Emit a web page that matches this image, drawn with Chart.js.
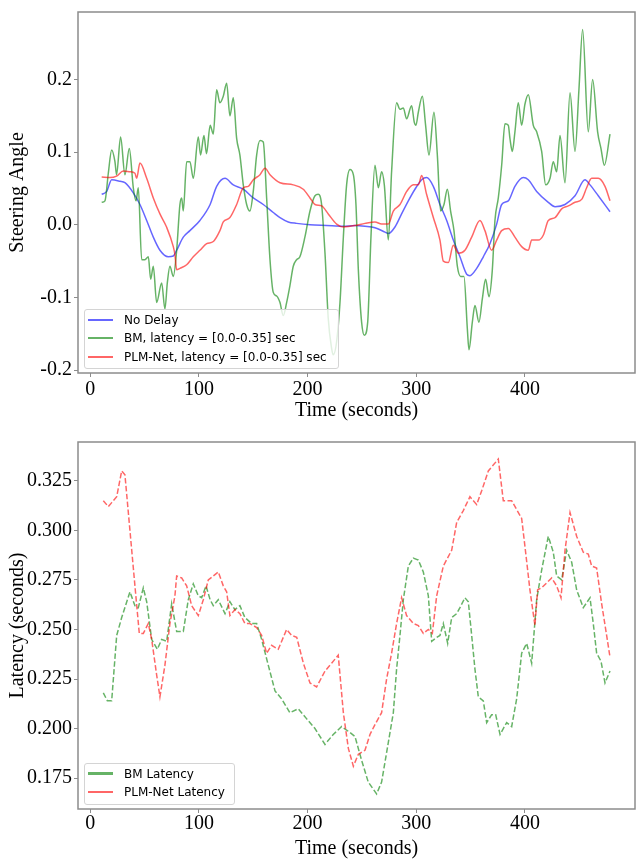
<!DOCTYPE html>
<html>
<head>
<meta charset="utf-8">
<script src="https://cdn.jsdelivr.net/npm/chart.js@4"></script>
<style>
  body { margin: 0; background: #fff; }
  #wrap { position: relative; width: 640px; height: 860px; }
  canvas { position: absolute; left: 0; }
  #steerChart { top: 0; }
  #latencyChart { top: 430px; }
  .legend {
    position: absolute;
    background: rgba(255, 255, 255, 0.8);
    border: 1px solid #d4d4d4;
    border-radius: 3px;
    font-family: 'DejaVu Sans', sans-serif;
    font-size: 12px;
    color: #000;
  }
  .item { position: absolute; left: 0; height: 18px; line-height: 18px; white-space: nowrap; }
  .swatch { position: absolute; left: 3px; top: 8px; width: 25px; height: 2px; }
  .label { position: absolute; left: 39px; top: 0; }
</style>
</head>
<body>
<div id="wrap">
  <canvas id="steerChart" width="640" height="430"></canvas>
  <canvas id="latencyChart" width="640" height="430"></canvas>

  <div class="legend" style="left:84px; top:309px; width:253px; height:58px;">
    <div class="item" style="top:1px"><span class="swatch" style="background:rgba(0,0,255,0.6)"></span><span class="label">No Delay</span></div>
    <div class="item" style="top:19px"><span class="swatch" style="background:rgba(0,128,0,0.6)"></span><span class="label">BM, latency = [0.0-0.35] sec</span></div>
    <div class="item" style="top:38px"><span class="swatch" style="background:rgba(255,0,0,0.6)"></span><span class="label">PLM-Net, latency = [0.0-0.35] sec</span></div>
  </div>

  <div class="legend" style="left:84px; top:763px; width:149px; height:40px;">
    <div class="item" style="top:1px"><span class="swatch" style="background:rgba(0,128,0,0.6); height:3px; top:7px"></span><span class="label">BM Latency</span></div>
    <div class="item" style="top:19px"><span class="swatch" style="background:rgba(255,0,0,0.6)"></span><span class="label">PLM-Net Latency</span></div>
  </div>
</div>

<script>
// tick values
const timeTicks = [0, 100, 200, 300, 400];
const steerTicks = [-0.2, -0.1, 0.0, 0.1, 0.2];
const latencyTicks = [0.175, 0.2, 0.225, 0.25, 0.275, 0.3, 0.325];

// steering angle, [time, value]
const noDelay = [
  [10.5,0.042],[15.1,0.046],[19.7,0.062],[27.3,0.060],[31.9,0.058],[39.6,0.044],[45.7,0.028],[51.9,0.006],
  [58.0,-0.017],[64.1,-0.035],[71.8,-0.044],[76.4,-0.043],[79.5,-0.035],[85.6,-0.017],[91.7,-0.008],[100.9,0.006],
  [110.3,0.028],[116.3,0.053],[124.0,0.064],[131.6,0.055],[140.8,0.049],[150.0,0.037],[159.2,0.028],[168.4,0.017],
  [174.6,0.010],[182.2,0.004],[189.9,0.002],[202.2,0.000],[217.5,-0.001],[232.9,-0.002],[243.6,-0.001],[252.8,-0.002],
  [262.0,-0.004],[271.2,-0.010],[274.3,-0.012],[280.4,-0.003],[286.5,0.015],[292.7,0.033],[298.8,0.049],[305.0,0.062],
  [309.5,0.065],[315.7,0.053],[321.8,0.028],[328.0,0.006],[334.1,-0.021],[340.2,-0.044],[346.4,-0.068],[349.4,-0.070],
  [355.6,-0.060],[361.7,-0.044],[367.8,-0.026],[374.0,0.001],[378.6,0.028],[384.7,0.033],[390.8,0.053],[398.5,0.065],
  [403.1,0.062],[410.8,0.046],[421.5,0.031],[427.7,0.025],[436.9,0.028],[446.1,0.040],[455.3,0.062],[459.9,0.055],
  [467.5,0.040],[478.3,0.018]
];

const bmSteer = [
  [10.5,0.031],[13.5,0.033],[16.6,0.071],[19.7,0.103],[22.7,0.087],[24.2,0.069],[27.9,0.121],[31.9,0.069],
  [35.9,0.105],[39.6,0.051],[42.1,0.033],[44.2,0.051],[47.3,-0.048],[50.3,-0.048],[53.4,-0.044],[55.6,-0.075],
  [58.0,-0.057],[61.1,-0.107],[65.7,-0.080],[68.7,-0.116],[70.9,-0.080],[73.3,-0.057],[76.4,-0.071],[79.5,-0.035],
  [82.5,0.028],[84.1,0.037],[85.6,0.019],[88.7,0.087],[91.7,0.087],[94.8,0.064],[99.4,0.121],[101.5,0.096],
  [104.6,0.123],[107.0,0.098],[110.3,0.137],[113.2,0.125],[116.3,0.186],[119.3,0.168],[122.4,0.177],[125.5,0.195],
  [128.5,0.150],[131.6,0.175],[134.7,0.119],[137.7,0.096],[140.8,0.055],[143.9,0.028],[146.9,0.019],[150.0,0.046],
  [153.1,0.096],[156.2,0.116],[159.2,0.114],[162.3,0.037],[165.4,-0.048],[168.4,-0.093],[171.5,-0.098],[174.6,-0.107],
  [177.6,-0.125],[180.7,-0.107],[183.7,-0.084],[186.8,-0.057],[189.9,-0.048],[192.9,-0.044],[197.5,-0.017],[202.2,0.019],
  [206.8,0.040],[209.8,0.042],[212.9,0.028],[216.0,-0.039],[219.0,-0.129],[222.1,-0.170],[223.6,-0.179],[226.7,-0.161],
  [229.8,-0.107],[232.9,-0.017],[235.9,0.055],[239.0,0.076],[242.1,0.069],[244.5,0.028],[246.7,-0.062],[249.7,-0.134],
  [252.2,-0.152],[255.3,-0.134],[258.3,-0.017],[262.0,0.082],[265.1,0.051],[268.1,0.073],[270.6,0.055],[274.3,-0.021],
  [277.3,0.073],[281.9,0.168],[285.0,0.159],[288.1,0.161],[291.1,0.146],[295.7,0.164],[298.2,0.141],[299.7,0.137],
  [301.9,0.155],[305.6,0.177],[308.6,0.137],[311.7,0.096],[316.3,0.155],[319.4,0.096],[322.4,0.019],[325.5,0.028],
  [328.6,0.049],[331.6,0.019],[334.7,-0.008],[337.8,-0.057],[340.8,-0.071],[343.9,-0.071],[347.0,-0.143],[348.5,-0.172],
  [351.6,-0.134],[354.0,-0.111],[357.7,-0.134],[360.8,-0.102],[363.8,-0.075],[366.9,-0.099],[370.0,-0.062],[372.4,0.006],
  [375.5,0.037],[378.6,0.082],[381.6,0.139],[384.7,0.137],[386.2,0.119],[388.4,0.101],[390.8,0.128],[393.9,0.168],
  [397.0,0.137],[400.0,0.166],[403.1,0.179],[407.7,0.137],[410.8,0.128],[415.4,0.101],[419.1,0.055],[423.1,0.064],
  [426.1,0.087],[429.2,0.073],[432.3,0.123],[436.9,0.058],[441.5,0.182],[446.1,0.101],[449.7,0.186],[453.1,0.269],
  [458.3,0.128],[462.3,0.200],[466.9,0.128],[470.0,0.105],[473.1,0.082],[478.3,0.125]
];

const plmSteer = [
  [10.5,0.066],[18.1,0.065],[24.2,0.067],[30.4,0.074],[36.5,0.073],[41.1,0.071],[42.7,0.064],[45.7,0.085],
  [51.9,0.064],[58.0,0.037],[64.1,0.015],[70.2,-0.003],[76.4,-0.030],[77.9,-0.041],[79.5,-0.062],[82.5,-0.060],
  [88.7,-0.055],[94.8,-0.044],[100.9,-0.035],[107.1,-0.026],[113.2,-0.023],[119.3,-0.008],[122.4,0.004],[128.5,0.010],
  [134.7,0.028],[140.8,0.051],[145.4,0.053],[150.0,0.062],[156.2,0.069],[160.8,0.078],[165.4,0.069],[174.6,0.058],
  [186.8,0.055],[196.0,0.049],[202.2,0.037],[206.8,0.028],[212.9,0.026],[219.0,0.015],[226.7,0.001],[232.9,-0.003],
  [239.0,-0.002],[243.6,-0.001],[252.8,0.002],[262.0,0.004],[268.1,0.001],[274.3,0.001],[278.9,0.019],[285.0,0.028],
  [291.2,0.046],[297.3,0.055],[301.9,0.055],[305.0,0.068],[309.5,0.042],[315.7,0.010],[321.8,-0.021],[324.9,-0.050],
  [329.5,-0.052],[334.1,-0.028],[338.7,-0.039],[344.8,-0.035],[351.0,-0.017],[358.6,0.006],[363.2,-0.008],[369.4,-0.035],
  [374.0,-0.021],[378.6,-0.008],[384.7,-0.005],[390.8,-0.017],[397.0,-0.030],[403.1,-0.035],[406.2,-0.021],[412.3,-0.021],
  [417.0,-0.014],[421.5,0.006],[427.7,0.010],[433.8,0.022],[439.9,0.026],[446.1,0.031],[452.2,0.035],[456.8,0.051],
  [461.4,0.064],[467.5,0.064],[473.7,0.053],[478.3,0.033]
];

// latency (seconds), [time, value]
const bmLatency = [
  [12,0.218],[15.7,0.214],[19.7,0.214],[24.3,0.247],[28.9,0.256],[36.5,0.269],[41.1,0.262],[44.2,0.261],
  [48.8,0.271],[51.9,0.264],[56.5,0.245],[61.7,0.240],[65.7,0.245],[70.3,0.244],[74.9,0.263],[79.5,0.249],
  [85.6,0.249],[90.2,0.265],[94.8,0.273],[99.4,0.267],[102.5,0.266],[106.5,0.272],[110.3,0.265],[113.2,0.262],
  [117.8,0.265],[124.0,0.258],[128.5,0.264],[133.1,0.260],[137.7,0.262],[142.3,0.256],[148.5,0.253],[153.1,0.253],
  [157.7,0.245],[163.8,0.232],[170.0,0.219],[176.1,0.215],[183.7,0.208],[191.4,0.210],[199.0,0.205],[206.8,0.200],
  [216.0,0.192],[223.6,0.197],[231.3,0.201],[239.0,0.198],[243.6,0.196],[249.7,0.184],[255.8,0.173],[263.5,0.167],
  [268.1,0.173],[274.3,0.193],[278.9,0.208],[281.9,0.230],[285.0,0.247],[288.1,0.265],[292.7,0.282],[297.3,0.286],
  [301.9,0.285],[306.5,0.279],[311.1,0.267],[314.2,0.244],[318.8,0.246],[321.8,0.247],[324.9,0.253],[328.9,0.243],
  [332.6,0.256],[337.2,0.258],[340.2,0.261],[344.8,0.266],[347.9,0.264],[351.0,0.247],[354.0,0.230],[357.1,0.216],
  [361.7,0.214],[364.8,0.203],[369.4,0.207],[373.1,0.207],[377.1,0.197],[380.1,0.200],[383.2,0.203],[387.8,0.201],
  [392.4,0.215],[397.0,0.238],[401.6,0.243],[406.2,0.233],[410.8,0.265],[415.4,0.280],[421.5,0.297],[426.1,0.289],
  [429.2,0.277],[433.8,0.275],[438.4,0.290],[443.0,0.284],[447.6,0.270],[453.7,0.261],[459.9,0.266],[462.9,0.253],
  [466.0,0.238],[470.0,0.234],[473.7,0.223],[478.3,0.229]
];

const plmLatency = [
  [12,0.315],[16.6,0.312],[19.7,0.314],[24.3,0.317],[28.9,0.330],[31.9,0.328],[36.5,0.300],[41.1,0.272],
  [45.1,0.248],[48.8,0.248],[53.4,0.253],[56.5,0.245],[61.1,0.227],[64.1,0.216],[68.7,0.232],[73.3,0.253],
  [77.9,0.267],[79.5,0.277],[84.1,0.276],[88.7,0.272],[93.3,0.262],[99.4,0.257],[104.0,0.265],[108.6,0.275],
  [113.2,0.277],[117.8,0.279],[122.4,0.272],[125.5,0.269],[128.5,0.257],[133.1,0.260],[137.7,0.258],[142.3,0.253],
  [146.9,0.253],[153.1,0.251],[157.7,0.247],[162.3,0.238],[166.9,0.242],[173.0,0.240],[180.7,0.250],[185.3,0.247],
  [190.0,0.246],[196.1,0.233],[202.2,0.223],[208.3,0.221],[216.0,0.229],[222.1,0.233],[228.2,0.237],[232.9,0.208],
  [237.5,0.190],[242.1,0.181],[246.7,0.187],[252.8,0.189],[257.4,0.197],[262.0,0.202],[268.1,0.208],[272.7,0.225],
  [277.3,0.238],[281.9,0.253],[286.5,0.266],[291.1,0.257],[297.3,0.253],[301.9,0.252],[306.5,0.248],[311.1,0.250],
  [314.8,0.248],[318.8,0.267],[324.9,0.282],[332.6,0.290],[337.2,0.304],[343.3,0.310],[349.4,0.317],[355.6,0.313],
  [360.2,0.320],[366.3,0.330],[375.5,0.336],[380.1,0.315],[387.8,0.315],[397.0,0.306],[400.0,0.292],[404.6,0.270],
  [409.2,0.252],[411.7,0.270],[415.4,0.271],[424.6,0.276],[429.2,0.272],[433.2,0.266],[436.9,0.290],[441.5,0.309],
  [447.6,0.297],[453.7,0.289],[458.3,0.288],[461.4,0.282],[466.0,0.281],[470.6,0.263],[475.2,0.247],[478.3,0.236]
];

const BLUE = 'rgba(0, 0, 255, 0.6)';
const GREEN = 'rgba(0, 128, 0, 0.6)';
const RED = 'rgba(255, 0, 0, 0.6)';
const SPINE = '#8c8c8c';
const serif = { family: "'Liberation Serif', 'Times New Roman', serif", size: 20, lineHeight: 1 };

const toPoints = arr => arr.map(p => ({ x: p[0], y: p[1] }));

// box around the plot area like matplotlib spines
const framePlugin = {
    id: 'frame',
    afterDatasetsDraw(chart) {
        const { ctx, chartArea: a } = chart;
        ctx.save();
        ctx.strokeStyle = SPINE;
        ctx.lineWidth = 1.5;
        ctx.strokeRect(a.left, a.top, a.right - a.left, a.bottom - a.top);
        ctx.restore();
    }
};

function xScale(axisHeight, tickPad, titlePad) {
    return {
        type: 'linear',
        min: -11.3,
        max: 501.3,
        afterBuildTicks: s => { s.ticks = timeTicks.map(v => ({ value: v })); },
        afterFit: s => { s.height = axisHeight; },
        ticks: { font: serif, color: '#000', padding: tickPad, maxRotation: 0, callback: v => String(v) },
        grid: { drawOnChartArea: false, tickLength: 4, color: SPINE },
        border: { display: false },
        title: { display: true, text: 'Time (seconds)', font: serif, color: '#000', padding: { top: 0, bottom: titlePad } }
    };
}

function yScale(min, max, ticks, digits, label) {
    return {
        type: 'linear',
        min: min,
        max: max,
        afterBuildTicks: s => { s.ticks = ticks.map(v => ({ value: v })); },
        afterFit: s => { s.width = 78; },
        ticks: { font: serif, color: '#000', padding: 2, callback: v => v.toFixed(digits) },
        grid: { drawOnChartArea: false, tickLength: 4, color: SPINE },
        border: { display: false },
        title: { display: true, text: label, font: serif, color: '#000', padding: { top: 8, bottom: 0 } }
    };
}

// steering angle chart
new Chart(document.getElementById('steerChart'), {
    type: 'line',
    data: {
        datasets: [
            { label: 'No Delay', data: toPoints(noDelay), borderColor: BLUE, order: 3 },
            { label: 'BM, latency = [0.0-0.35] sec', data: toPoints(bmSteer), borderColor: GREEN, order: 2 },
            { label: 'PLM-Net, latency = [0.0-0.35] sec', data: toPoints(plmSteer), borderColor: RED, order: 1 }
        ]
    },
    options: {
        responsive: false,
        animation: false,
        layout: { padding: { top: 4, right: 5, bottom: 0, left: 0 } },
        elements: {
            line: { borderWidth: 1.5, cubicInterpolationMode: 'monotone' },
            point: { radius: 0 }
        },
        plugins: { legend: { display: false }, tooltip: { enabled: false } },
        scales: {
            x: xScale(57, 3, 9),
            y: yScale(-0.204, 0.293, steerTicks, 1, 'Steering Angle')
        }
    },
    plugins: [framePlugin]
});

// latency chart
new Chart(document.getElementById('latencyChart'), {
    type: 'line',
    data: {
        datasets: [
            { label: 'BM Latency', data: toPoints(bmLatency), borderColor: GREEN, borderDash: [5.5, 2.4], order: 2 },
            { label: 'PLM-Net Latency', data: toPoints(plmLatency), borderColor: RED, borderDash: [5.5, 2.4], order: 1 }
        ]
    },
    options: {
        responsive: false,
        animation: false,
        layout: { padding: { top: 10, right: 5, bottom: 0, left: 0 } },
        elements: {
            line: { borderWidth: 1.5, tension: 0 },
            point: { radius: 0 }
        },
        plugins: { legend: { display: false }, tooltip: { enabled: false } },
        scales: {
            x: xScale(51, 0.5, 1.5),
            y: yScale(0.1594, 0.3446, latencyTicks, 3, 'Latency (seconds)')
        }
    },
    plugins: [framePlugin]
});
</script>
</body>
</html>
